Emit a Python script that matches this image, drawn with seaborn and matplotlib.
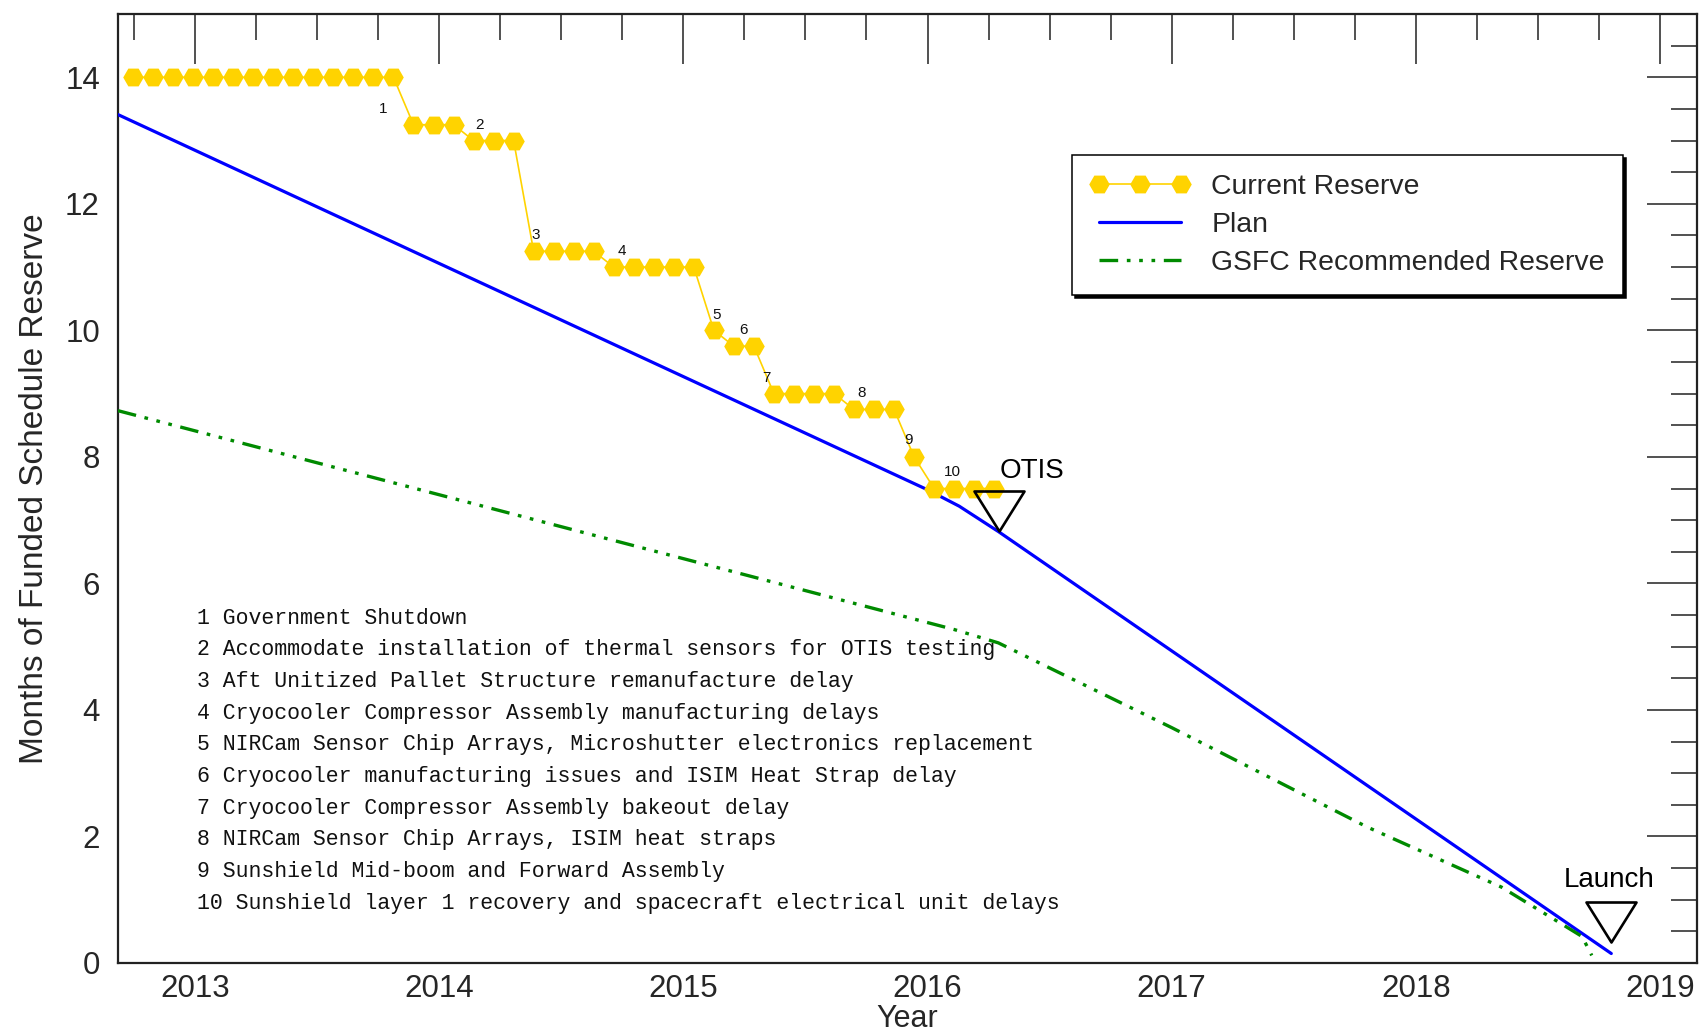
import matplotlib
matplotlib.use("Agg")
import matplotlib.pyplot as plt
import seaborn as sns
import pandas as pd
from matplotlib.ticker import MultipleLocator, FormatStrFormatter
from matplotlib.path import Path
from matplotlib.lines import Line2D

# ---------------- data ----------------
reserve_year = [2012.747, 2012.829, 2012.911, 2012.993, 2013.075, 2013.157, 2013.239,
                2013.321, 2013.403, 2013.485, 2013.567, 2013.649, 2013.731, 2013.813,
                2013.895, 2013.977, 2014.059, 2014.141, 2014.223, 2014.305, 2014.387,
                2014.469, 2014.551, 2014.633, 2014.715, 2014.797, 2014.879, 2014.961,
                2015.043, 2015.125, 2015.207, 2015.289, 2015.371, 2015.453, 2015.535,
                2015.617, 2015.699, 2015.781, 2015.863, 2015.945, 2016.027, 2016.109,
                2016.191, 2016.273]
reserve_months = [14, 14, 14, 14, 14, 14, 14, 14, 14, 14, 14, 14, 14, 14,
                  13.25, 13.25, 13.25, 13.0, 13.0, 13.0,
                  11.25, 11.25, 11.25, 11.25, 11.0, 11.0, 11.0, 11.0, 11.0,
                  10.0, 9.75, 9.75, 9.0, 9.0, 9.0, 9.0, 8.75, 8.75, 8.75,
                  8.0, 7.5, 7.5, 7.5, 7.5]

plan_year = [2012.685, 2016.00, 2016.13, 2016.29, 2018.80]
plan_months = [13.41, 7.48, 7.22, 6.82, 0.15]

gsfc_year = [2012.685, 2016.11, 2016.29, 2017.00, 2017.80, 2018.35, 2018.68, 2018.72]
gsfc_months = [8.73, 5.27, 5.06, 3.72, 2.15, 1.20, 0.42, 0.12]

event_ids = ["1", "2", "3", "4", "5", "6", "7", "8", "9", "10"]
event_x = [2013.769, 2014.167, 2014.396, 2014.747, 2015.136, 2015.245, 2015.341,
           2015.730, 2015.921, 2016.100]
event_y = [13.50, 13.25, 11.51, 11.26, 10.245, 10.0, 9.245, 9.007, 8.26, 7.755]
event_notes = [
    "1 Government Shutdown",
    "2 Accommodate installation of thermal sensors for OTIS testing",
    "3 Aft Unitized Pallet Structure remanufacture delay",
    "4 Cryocooler Compressor Assembly manufacturing delays",
    "5 NIRCam Sensor Chip Arrays, Microshutter electronics replacement",
    "6 Cryocooler manufacturing issues and ISIM Heat Strap delay",
    "7 Cryocooler Compressor Assembly bakeout delay",
    "8 NIRCam Sensor Chip Arrays, ISIM heat straps",
    "9 Sunshield Mid-boom and Forward Assembly",
    "10 Sunshield layer 1 recovery and spacecraft electrical unit delays",
]

milestone_names = ["OTIS", "Launch"]
milestone_x = [2016.294, 2018.797]
milestone_y = [7.143, 0.645]
milestone_label_x = [2016.428, 2018.79]
milestone_label_y = [7.78, 1.31]

x_limits = [2012.685, 2019.151]
y_limits = [0, 15]

series_labels = ["Current Reserve", "Plan", "GSFC Recommended Reserve"]

# ---------------- style ----------------
sns.set_theme(style="white")
plt.rcParams["font.family"] = ["Liberation Sans", "DejaVu Sans"]

GOLD = "#FFD300"
BLUE = "#0000FF"
GREEN = "#008A00"
GSFC_DASH = (0, (5.6, 2.6, 1.1, 2.6, 1.1, 2.6, 1.1, 2.6))

fig = plt.figure(figsize=(17.01, 10.33), dpi=100)
ax = fig.add_axes([118 / 1701, 1 - 963 / 1033, 1579 / 1701, 949 / 1033])

df_plan = pd.DataFrame({"Year": plan_year, "Months": plan_months})
df_gsfc = pd.DataFrame({"Year": gsfc_year, "Months": gsfc_months})
df_res = pd.DataFrame({"Year": reserve_year, "Months": reserve_months})

sns.lineplot(data=df_plan, x="Year", y="Months", ax=ax, color=BLUE, linewidth=2.3,
             sort=False, zorder=3)
sns.lineplot(data=df_gsfc, x="Year", y="Months", ax=ax, color=GREEN, linewidth=2.4,
             sort=False, zorder=3, linestyle=GSFC_DASH)
sns.lineplot(data=df_res, x="Year", y="Months", ax=ax, color=GOLD, linewidth=1.2,
             marker="H", markersize=14.8, markeredgecolor=GOLD, markerfacecolor=GOLD,
             markeredgewidth=0, sort=False, zorder=4)

# milestone triangles
tri = Path([(-1, 0.8), (1, 0.8), (0, -0.8), (-1, 0.8)],
           [Path.MOVETO, Path.LINETO, Path.LINETO, Path.CLOSEPOLY])
for mx, my in zip(milestone_x, milestone_y):
    ax.plot([mx], [my], linestyle="none", marker=tri, markersize=36,
            markerfacecolor="none", markeredgecolor="black", markeredgewidth=1.9, zorder=6)
for name, lx, ly in zip(milestone_names, milestone_label_x, milestone_label_y):
    ax.text(lx, ly, name, ha="center", va="center", fontsize=20, color="black", zorder=7)

# event numbers
for eid, ex, ey in zip(event_ids, event_x, event_y):
    ax.text(ex, ey, eid, ha="center", va="center", fontsize=11, color="#111111", zorder=7)

# notes
for i, note in enumerate(event_notes):
    ax.text(0.050, 0.3635 - i * 0.03337, note, transform=ax.transAxes,
            ha="left", va="center", fontsize=15.5,
            family=["Liberation Mono", "DejaVu Sans Mono"], color="#111111")

# axes
ax.set_xlim(*x_limits)
ax.set_ylim(*y_limits)
ax.xaxis.set_major_locator(MultipleLocator(1))
ax.xaxis.set_minor_locator(MultipleLocator(0.25))
ax.yaxis.set_major_locator(MultipleLocator(2))
ax.yaxis.set_minor_locator(MultipleLocator(0.5))
ax.xaxis.set_major_formatter(FormatStrFormatter("%d"))
ax.yaxis.set_major_formatter(FormatStrFormatter("%d"))

ax.tick_params(which="both", direction="in", top=True, right=True, color="#333333",
               width=1.2)
ax.tick_params(which="major", length=36, labelsize=22.5)
ax.tick_params(which="minor", length=19)
ax.tick_params(axis="y", which="major", pad=13)
ax.tick_params(axis="x", which="major", pad=8)
for s in ax.spines.values():
    s.set_linewidth(1.6)
    s.set_color("#222222")

ax.set_xlabel("Year", fontsize=22)
ax.set_ylabel("Months of Funded Schedule Reserve", fontsize=24)
ax.xaxis.set_label_coords(0.5, -0.0432)
ax.yaxis.set_label_coords(-0.0431, 0.5)

handles = [
    Line2D([], [], color=GOLD, linewidth=1.2, marker="H", markersize=14.8,
           markeredgewidth=0, markerfacecolor=GOLD),
    Line2D([], [], color=BLUE, linewidth=2.3),
    Line2D([], [], color=GREEN, linewidth=2.4, linestyle=GSFC_DASH),
]
leg = ax.legend(handles=handles, labels=series_labels, loc="upper left",
                bbox_to_anchor=(0.6042, 0.8514), borderaxespad=0, fontsize=20.4,
                numpoints=3, handlelength=3.5, handletextpad=0.75, labelspacing=0.43,
                borderpad=0.66, fancybox=False, frameon=True,
                shadow={"color": "black", "alpha": 1.0})
leg.get_frame().set_edgecolor("black")
leg.get_frame().set_linewidth(1.1)
leg.set_zorder(10)

fig.savefig("out.png", dpi=100, facecolor="white")
